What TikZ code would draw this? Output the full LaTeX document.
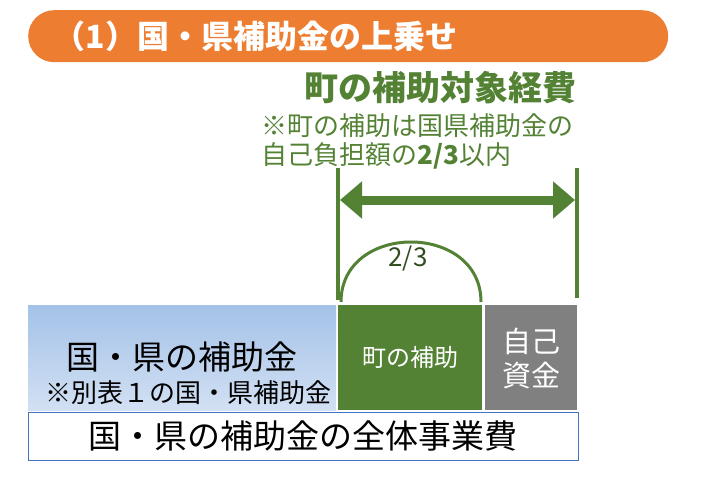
\documentclass[tikz,border=0pt]{standalone}
\usepackage{fontspec}
\setmainfont{Noto Sans CJK JP}
\usetikzlibrary{arrows.meta}
\definecolor{og}{HTML}{ED7D31}
\definecolor{gr}{HTML}{548235}
\definecolor{gy}{HTML}{808080}
\definecolor{bl}{HTML}{4472C4}
\definecolor{btop}{HTML}{A4C2E8}
\definecolor{bbot}{HTML}{D2E0F3}
\tikzset{
 box/.style={minimum height=105pt,anchor=north west,inner sep=0pt},
 gtext/.style={text=gr,anchor=west,font=\fontsize{26}{28}\selectfont}
}
\begin{document}
\begin{tikzpicture}[x=1pt,y=-1pt]
\useasboundingbox (0,0) rectangle (711,481);
\node[fill=og,rounded corners=26pt,minimum width=640pt,minimum height=52pt,anchor=north west,inner sep=0pt] (ban) at (28,10) {};
\node[text=white,anchor=west,font=\bfseries\fontsize{32}{34}\selectfont] (bt) at (50,36) {（1）国・県補助金の上乗せ};
\node[text=gr,font=\bfseries\fontsize{34}{36}\selectfont] (tt) at (440,88) {町の補助対象経費};
\node[gtext] (s1) at (258,126) {※町の補助は国県補助金の};
\node[gtext] (s2) at (258,156) {自己負担額の\textbf{2/3}以内};
\coordinate (l1t) at (338,168); \coordinate (l1b) at (338,300);
\coordinate (l2t) at (577,168); \coordinate (l2b) at (577,298);
\draw[gr,line width=4pt] (l1t)--(l1b) (l2t)--(l2b);
\coordinate (al) at (340,200); \coordinate (ar) at (575,200);
\draw[gr,line width=9pt,{Triangle[length=22pt,width=36pt]}-{Triangle[length=22pt,width=36pt]}] (al)--(ar);
\coordinate (c1) at (341,302); \coordinate (c2) at (481,302);
\draw[gr,line width=3pt] (c1) .. controls (341,222) and (481,222) .. (c2);
\node[text=gr!60!black,font=\fontsize{26}{28}\selectfont] (fr) at (408,259) {2/3};
\node[box,minimum width=308pt,top color=btop,bottom color=bbot] (kb) at (28,305) {};
\node[font=\fontsize{33}{35}\selectfont] (k1) at (182,357) {国・県の補助金};
\node[font=\fontsize{26}{28}\selectfont,anchor=east] (k2) at (335,393) {\textbf{※}別表１の国・県補助金};
\node[box,minimum width=144pt,fill=gr] (mb) at (338,305) {};
\node[text=white,font=\fontsize{24}{26}\selectfont] (m1) at (410,357) {町の補助};
\node[box,minimum width=92pt,fill=gy] (jb) at (485,305) {};
\node[text=white,font=\fontsize{29}{34}\selectfont,align=center] (j1) at (531,358) {自己\\資金};
\node[draw=bl,line width=1.2pt,minimum width=550pt,minimum height=48pt,anchor=north west,inner sep=0pt] (bb) at (28,412) {};
\node[font=\fontsize{33}{35}\selectfont] (b1) at (303,436) {国・県の補助金の全体事業費};
\end{tikzpicture}
\end{document}
